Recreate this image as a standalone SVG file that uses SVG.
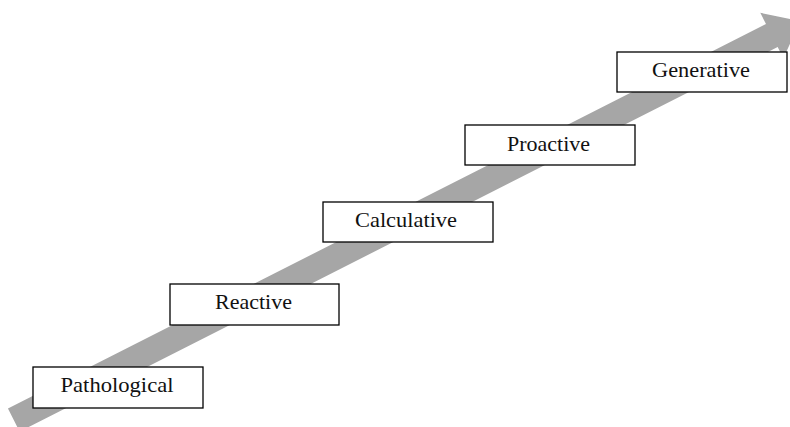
<svg xmlns="http://www.w3.org/2000/svg" width="790" height="427" viewBox="0 0 790 427">
  <style>
    .box { fill: #ffffff; stroke: #000000; stroke-width: 1.3; }
    .lbl { font-family: "Liberation Serif", "Times New Roman", serif; font-size: 21px; fill: #111111; text-anchor: middle; }
    .arrow { fill: #a6a6a6; stroke: none; }
  </style>
  <g id="connectors">
    <polygon class="arrow" transform="translate(13.8,420.1) rotate(-26.9)" points="0,-12.9 850,-12.9 850,-25.5 882,0 850,25.5 850,12.9 0,12.9"/>
  </g>
  <g id="pathological">
    <rect class="box" x="33" y="367" width="170" height="41"/>
    <text class="lbl" x="117" y="392" textLength="113" lengthAdjust="spacingAndGlyphs">Pathological</text>
  </g>
  <g id="reactive">
    <rect class="box" x="170" y="284" width="169" height="41"/>
    <text class="lbl" x="253.5" y="309" textLength="77" lengthAdjust="spacingAndGlyphs">Reactive</text>
  </g>
  <g id="calculative">
    <rect class="box" x="323" y="202" width="170" height="40"/>
    <text class="lbl" x="406" y="227" textLength="102" lengthAdjust="spacingAndGlyphs">Calculative</text>
  </g>
  <g id="proactive">
    <rect class="box" x="465" y="125" width="170" height="40"/>
    <text class="lbl" x="548.5" y="151" textLength="83" lengthAdjust="spacingAndGlyphs">Proactive</text>
  </g>
  <g id="generative">
    <rect class="box" x="617" y="52" width="170" height="40"/>
    <text class="lbl" x="701" y="77" textLength="98" lengthAdjust="spacingAndGlyphs">Generative</text>
  </g>
</svg>
